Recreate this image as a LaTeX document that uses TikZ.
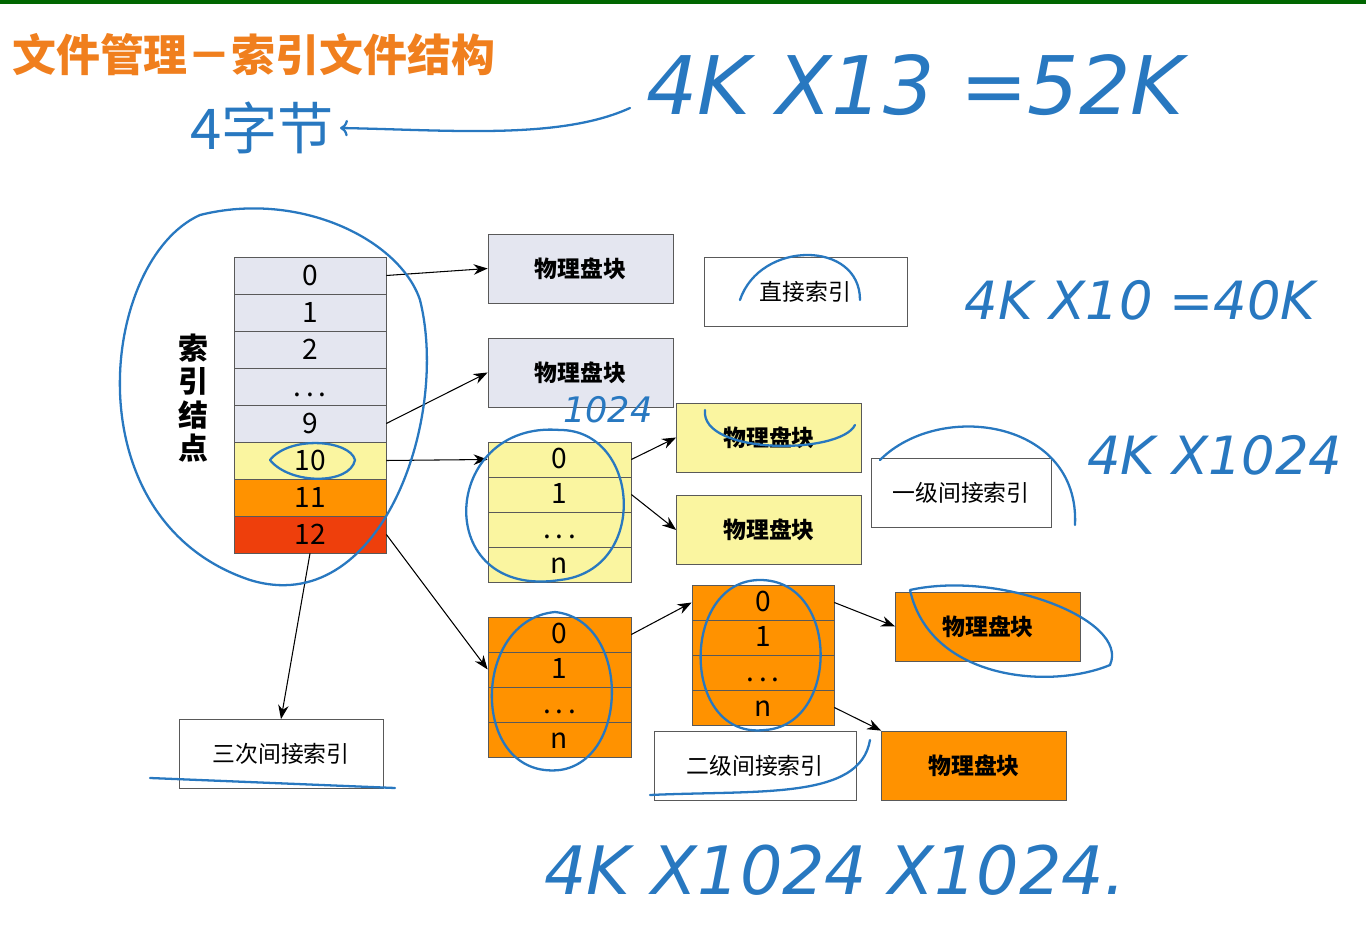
\documentclass[tikz,border=0pt]{standalone}
\usepackage{fontspec}
\setmainfont{Noto Sans CJK SC}
\newfontfamily\handfont{DejaVu Sans}
\usetikzlibrary{arrows.meta}
\definecolor{lav}{HTML}{E4E6F0}
\definecolor{lyel}{HTML}{FAF5A0}
\definecolor{org}{HTML}{FF9200}
\definecolor{rd}{HTML}{EE3F0C}
\definecolor{ttl}{HTML}{F07F1E}
\definecolor{pen}{HTML}{2878C0}
\tikzset{
  cell/.style={draw=gray!70!black, minimum width=#1, inner sep=0pt, font=\fontsize{16}{16}\selectfont},
  blk/.style={draw=gray!70!black, fill=#1, minimum width=185*0.02cm, minimum height=69*0.02cm, inner sep=0pt, font=\fontsize{13}{13}\selectfont\bfseries},
  lbl/.style={draw=gray!70!black, fill=white, minimum width=#1, minimum height=69*0.02cm, inner sep=0pt, font=\fontsize{13}{13}\selectfont},
  arr/.style={-{Stealth[length=8pt]}, semithick},
  ink/.style={pen, line width=1.3pt, line cap=round},
  hand/.style={pen, font=\handfont\itshape}
}
\begin{document}
\begin{tikzpicture}[x=0.02cm, y=-0.02cm]
\useasboundingbox (0,0) rectangle (1366,925);
\fill[green!40!black] (0,0) rectangle (1366,4);
\node[anchor=west, text=ttl, font=\fontsize{25}{25}\selectfont\bfseries] (title) at (6,55) {文件管理－索引文件结构};

% index node table
\foreach \t/\c [count=\i from 0] in {0/lav,1/lav,2/lav,.\,.\,./lav,9/lav,10/lyel,11/org,12/rd}
  \node[cell=152*0.02cm, fill=\c, minimum height=37*0.02cm, text height=12pt, text depth=1pt] (r\i) at (310,{275.5+37*\i}) {\t};
\node[font=\fontsize{17}{19}\selectfont\bfseries, align=center] (inode) at (193,398) {索\\引\\结\\点};

% first level table
\foreach \t [count=\i from 0] in {0,1,.\,.\,.,n}
  \node[cell=143*0.02cm, fill=lyel, minimum height=35*0.02cm, text height=11pt, text depth=1pt] (a\i) at (559.5,{459.5+35*\i}) {\t};
% second level tables
\foreach \t [count=\i from 0] in {0,1,.\,.\,.,n}
  \node[cell=143*0.02cm, fill=org, minimum height=35*0.02cm, text height=11pt, text depth=1pt] (b\i) at (559.5,{634.5+35*\i}) {\t};
\foreach \t [count=\i from 0] in {0,1,.\,.\,.,n}
  \node[cell=142*0.02cm, fill=org, minimum height=35*0.02cm, text height=11pt, text depth=1pt] (c\i) at (763,{602.5+35*\i}) {\t};

% blocks
\node[blk=lav] (pa) at (580.5,268.5) {物理盘块};
\node[blk=lav] (pb) at (580.5,372.5) {物理盘块};
\node[blk=lyel] (pc) at (769,437.5) {物理盘块};
\node[blk=lyel] (pd) at (769,530) {物理盘块};
\node[blk=org] (pe) at (988,626.5) {物理盘块};
\node[blk=org] (pf) at (974,765.5) {物理盘块};
\node[lbl=203*0.02cm] (direct) at (805.5,292) {直接索引};
\node[lbl=180*0.02cm] (first) at (961,492.5) {一级间接索引};
\node[lbl=202*0.02cm] (second) at (755,765.5) {二级间接索引};
\node[lbl=204*0.02cm] (third) at (281,754) {三次间接索引};

% pointers
\draw[arr] (r0.east) -- (pa.west);
\draw[arr] (r4.east) -- (pb.west);
\draw[arr] (r5.east) -- (a0.west);
\draw[arr] (r7.east) -- (b1.west);
\draw[arr] (r7.south) -- (third.north);
\draw[arr] (a0.east) -- (pc.west);
\draw[arr] (a1.east) -- (pd.west);
\draw[arr] (b0.east) -- (c0.west);
\draw[arr] (c0.east) -- (pe.west);
\draw[arr] (c3.east) -- (pf.north west);

% handwritten notes
\node[hand, font=\handfont\itshape\fontsize{46}{46}\selectfont] (n52) at (915,85) {4K X13 =52K};
\node[hand, font=\fontsize{32}{32}\selectfont] (bytes) at (262,128) {4字节};
\draw[ink, ->] (630,108) .. controls (560,140) and (450,130) .. (bytes.east);
\node[hand, font=\handfont\itshape\fontsize{30}{30}\selectfont] (n40) at (1140,300) {4K X10 =40K};
\node[hand, font=\handfont\itshape\fontsize{20}{20}\selectfont] (n1024) at (608,410) {1024};
\node[hand, font=\handfont\itshape\fontsize{30}{30}\selectfont] (n4m) at (1215,455) {4K X1024};
\node[hand, font=\handfont\itshape\fontsize{38}{38}\selectfont] (n4g) at (835,870) {4K X1024 X1024.};
\draw[ink] (200,215) .. controls (100,260) and (70,520) .. (250,580) .. controls (380,620) and (450,420) .. (420,300) .. controls (400,240) and (300,190) .. (200,215);
\draw[ink] (560,430) .. controls (440,420) and (430,600) .. (560,580) .. controls (650,570) and (640,430) .. (560,430);
\draw[ink] (555,612) .. controls (470,620) and (470,780) .. (560,770) .. controls (630,760) and (630,620) .. (555,612);
\draw[ink] (760,580) .. controls (680,580) and (680,740) .. (765,730) .. controls (840,725) and (840,580) .. (760,580);
\draw[ink] (910,590) .. controls (1000,570) and (1130,620) .. (1110,665) .. controls (1050,690) and (930,680) .. (910,590);
\draw[ink] (880,460) .. controls (940,400) and (1080,420) .. (1075,525);
\draw[ink] (740,300) .. controls (760,240) and (860,240) .. (860,300);
\draw[ink] (150,778) -- (395,788);
\draw[ink] (650,795) .. controls (760,790) and (860,800) .. (870,740);
\draw[ink] (270,460) .. controls (290,435) and (350,440) .. (355,460) .. controls (350,485) and (290,485) .. (270,460);
\draw[ink] (705,410) .. controls (700,455) and (840,455) .. (855,425);
\end{tikzpicture}
\end{document}
